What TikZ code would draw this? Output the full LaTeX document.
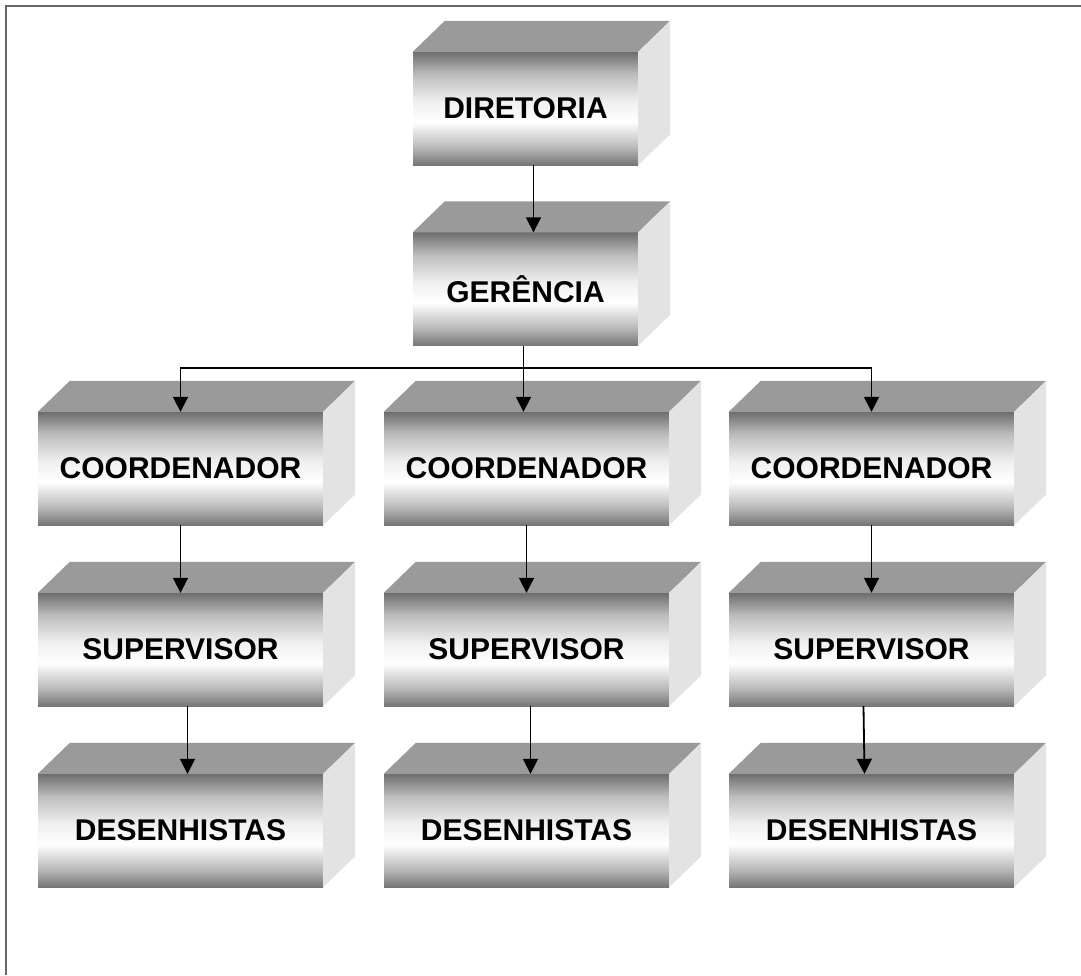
\documentclass[tikz,border=0pt]{standalone}
\usepackage{fontspec}
\setmainfont{Liberation Sans}
\usetikzlibrary{arrows.meta,calc}
\definecolor{frontdark}{HTML}{6E6E6E}
\definecolor{frontbot}{HTML}{767676}
\definecolor{topface}{HTML}{9A9A9A}
\definecolor{sideface}{HTML}{E3E3E3}
\definecolor{framec}{HTML}{666666}
\pgfdeclareverticalshading{boxshade}{100bp}{%
  color(0bp)=(frontbot); color(25bp)=(frontbot); color(33bp)=(frontbot!50!white);
  color(44bp)=(white); color(53bp)=(white!94!black); color(65bp)=(frontdark!45!white);
  color(75bp)=(frontdark); color(100bp)=(frontdark)}
\tikzset{
  box/.style={shading=boxshade, minimum height=113pt, inner sep=0pt,
    font=\bfseries\fontsize{30}{34}\selectfont, text=black},
  wbox/.style={box, minimum width=285pt},
  nbox/.style={box, minimum width=225pt},
  conn/.style={line width=1.8pt, draw=black},
  arr/.style={conn, -{Triangle[width=15pt,length=15pt]}},
}
\newcommand{\cubefaces}[1]{%
  \fill[topface] (#1.north west) -- ++(32pt,31pt) -- ($(#1.north east)+(32pt,31pt)$) -- (#1.north east) -- cycle;
  \fill[sideface] (#1.north east) -- ++(32pt,31pt) -- ($(#1.south east)+(32pt,31pt)$) -- (#1.south east) -- cycle;
}
\begin{document}
\begin{tikzpicture}[x=1pt,y=-1pt]
\useasboundingbox (0,0) rectangle (1081,975);
\fill[white] (0,0) rectangle (1081,975);
\draw[framec, line width=2pt] (5.5,975) -- (5.5,5.5) -- (1081,5.5);

\node[nbox] (dir) at (525.5,108.5) {DIRETORIA};
\node[nbox] (ger) at (525.5,289) {GERÊNCIA};
\node[wbox] (c1) at (180.5,468.5) {COORDENADOR};
\node[wbox] (c2) at (526.5,468.5) {COORDENADOR};
\node[wbox] (c3) at (871.5,468.5) {COORDENADOR};
\node[wbox] (s1) at (180.5,649.5) {SUPERVISOR};
\node[wbox] (s2) at (526.5,649.5) {SUPERVISOR};
\node[wbox] (s3) at (871.5,649.5) {SUPERVISOR};
\node[wbox] (d1) at (180.5,830.5) {DESENHISTAS};
\node[wbox] (d2) at (526.5,830.5) {DESENHISTAS};
\node[wbox] (d3) at (871.5,830.5) {DESENHISTAS};
\foreach \n in {dir,ger,c1,c2,c3,s1,s2,s3,d1,d2,d3}{\cubefaces{\n}}

\draw[arr] ([xshift=8pt]dir.south) -- ([xshift=8pt]ger.north);
\coordinate (br) at ($(ger.south)+(-2pt,-22pt)$);
\draw[conn] ([xshift=-2pt]ger.south) -- (br);
\draw[arr] (br) -| (c1.north);
\draw[arr] (br) -- ([xshift=-3pt]c2.north);
\draw[arr] (br) -| (c3.north);
\draw[arr] (c1.south) -- (s1.north);
\draw[arr] (c2.south) -- (s2.north);
\draw[arr] (c3.south) -- (s3.north);
\draw[arr] ([xshift=7pt]s1.south) -- ([xshift=7pt]d1.north);
\draw[arr] ([xshift=4pt]s2.south) -- ([xshift=4pt]d2.north);
\draw[arr] ([xshift=-8pt]s3.south) -- ([xshift=-7pt]d3.north);
\end{tikzpicture}
\end{document}
